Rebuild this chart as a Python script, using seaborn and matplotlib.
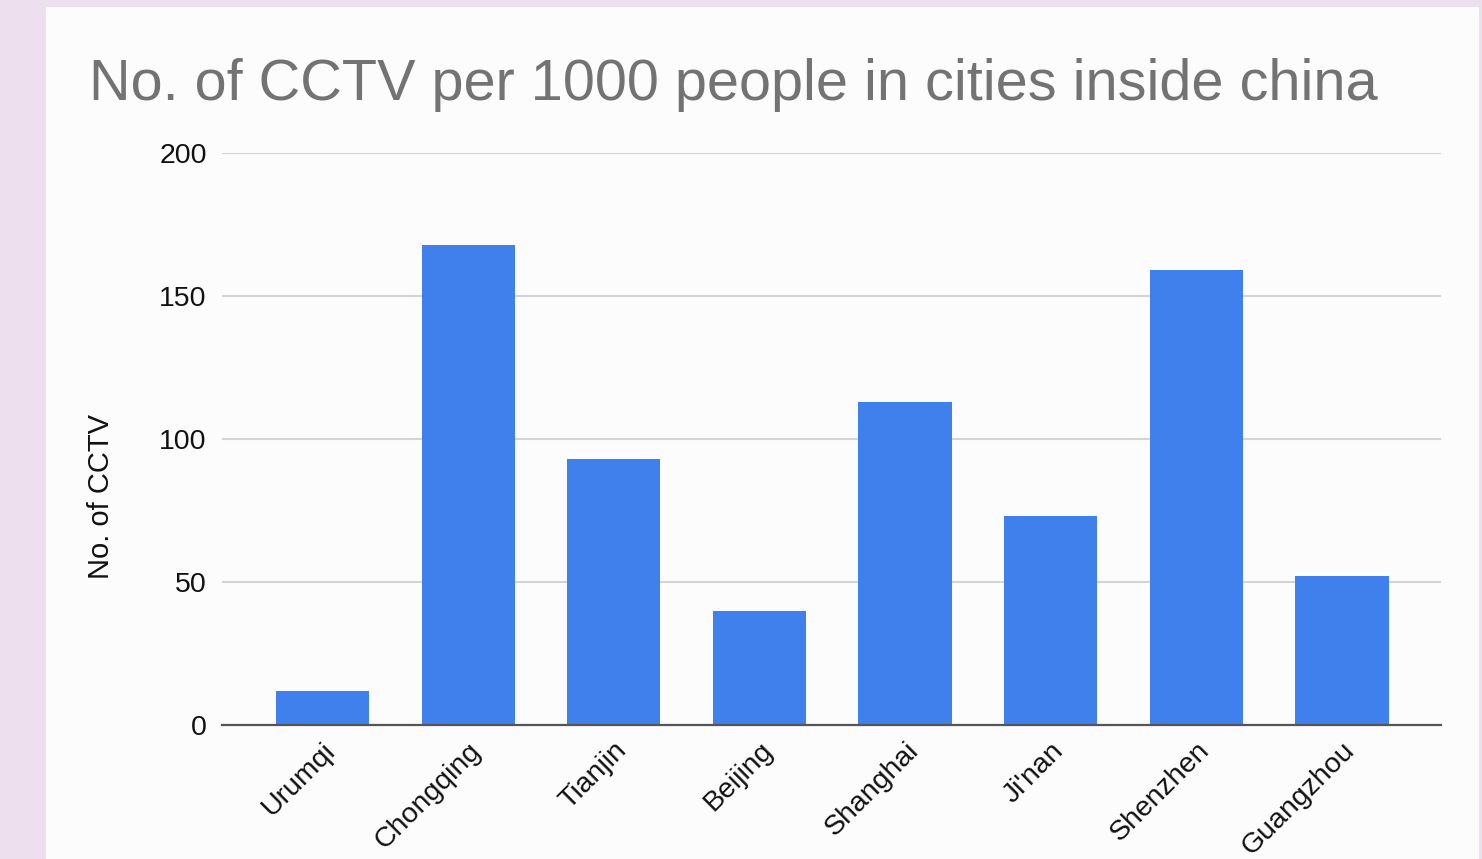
import matplotlib
matplotlib.use("Agg")
import matplotlib.pyplot as plt
import seaborn as sns
import pandas as pd
from matplotlib.patches import Rectangle

cities = ["Urumqi", "Chongqing", "Tianjin", "Beijing", "Shanghai", "Ji'nan", "Shenzhen", "Guangzhou"]
cctv = [12, 168, 93, 40, 113, 73, 159, 52]
yticks = [0, 50, 100, 150, 200]
title = "No. of CCTV per 1000 people in cities inside china"
ylabel = "No. of CCTV"

sns.set_theme(style="white")
plt.rcParams['font.family'] = ['Liberation Sans', 'DejaVu Sans']

fig = plt.figure(figsize=(14.82, 8.59), dpi=100)
fig.patch.set_facecolor("#eedfee")
card = Rectangle((46/1482, 0), (1479-46)/1482, 1 - 7/859, transform=fig.transFigure,
                 facecolor="#fcfcfc", edgecolor="none", zorder=-10)
fig.patches.append(card)

ax = fig.add_axes([222/1482, 1 - 725/859, (1441-222)/1482, (725-153)/859])
ax.set_facecolor("none")
ax.set_zorder(2)

df = pd.DataFrame({"city": cities, "cctv": cctv})
sns.barplot(data=df, x="city", y="cctv", color="#3f80ec", saturation=1, width=0.64, ax=ax, zorder=3)
for p in ax.patches:
    p.set_edgecolor("none")

ax.set_ylim(0, 200)
ax.set_xlim(-0.69, 7.68)
ax.set_yticks(yticks)
ax.set_yticklabels([str(v) for v in yticks], fontsize=20.5, color="#111111")
ax.yaxis.grid(True, color="#d4d4d4", linewidth=1.5, zorder=0)
ax.set_axisbelow(True)
for s in ["top", "right", "left"]:
    ax.spines[s].set_visible(False)
ax.spines["bottom"].set_color("#555555")
ax.spines["bottom"].set_linewidth(1.6)
ax.spines["bottom"].set_zorder(4)
ax.tick_params(axis="both", length=0)
ax.tick_params(axis="y", pad=11)
ax.tick_params(axis="x", pad=9)
ax.set_xticks(range(len(cities)))
ax.set_xticklabels(cities, rotation=45, ha="right", rotation_mode="anchor", fontsize=20.5, color="#111111")
ax.set_xlabel("")
ax.set_ylabel(ylabel, fontsize=21, color="#111111")
ax.yaxis.set_label_coords(-0.088, 0.40)

fig.text(89/1482, 1 - 100/859, title, fontsize=41.5, color="#737373", ha="left", va="baseline")

fig.savefig("out.png", dpi=100, facecolor=fig.get_facecolor())
